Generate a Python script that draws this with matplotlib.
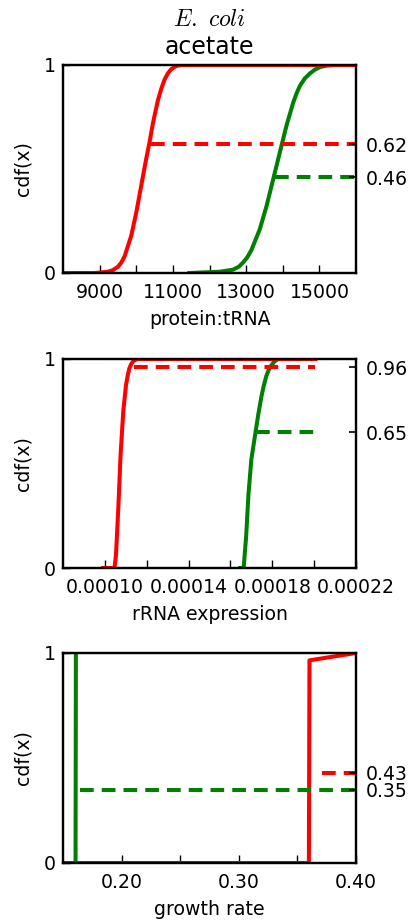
import matplotlib
matplotlib.use('Agg')
import matplotlib.pyplot as plt
from matplotlib.ticker import FixedLocator, FormatStrFormatter

plt.rcParams['mathtext.fontset'] = 'cm'
plt.rcParams['font.family'] = ['DejaVu Sans']

RED = '#ff0000'
GREEN = '#008000'

# protein:tRNA cumulative distributions
trna_red_x = [8000, 8864, 9227, 9364, 9500, 9591, 9682, 9864, 10000, 10136,
              10273, 10364, 10455, 10591, 10682, 10773, 10864, 10955, 11091,
              11227, 16000]
trna_red_cdf = [0, 0, 0.006, 0.014, 0.03, 0.05, 0.08, 0.18, 0.29, 0.42,
                0.55, 0.63, 0.72, 0.83, 0.885, 0.93, 0.96, 0.98, 0.995,
                1.0, 1.0]
trna_green_x = [11451, 12274, 12640, 12800, 12915, 13030, 13144, 13372, 13555,
                13738, 13921, 14104, 14287, 14380, 14470, 14600, 14745, 14880,
                15020, 15200, 15400, 16000]
trna_green_cdf = [0, 0.006, 0.016, 0.03, 0.05, 0.075, 0.11, 0.21, 0.32,
                  0.45, 0.58, 0.71, 0.82, 0.865, 0.90, 0.935, 0.96, 0.978,
                  0.99, 0.997, 1.0, 1.0]
trna_obs = {'red': (10390, 0.62), 'green': (13800, 0.46)}

# rRNA expression cumulative distributions
rrna_red_x = [0.0000992, 0.0001046, 0.0001053, 0.0001064, 0.0001075, 0.0001088,
              0.0001101, 0.0001109, 0.0001117, 0.0001126, 0.0001136, 0.0001148,
              0.0001160, 0.0002005]
rrna_red_cdf = [0, 0, 0.06, 0.28, 0.54, 0.75, 0.875, 0.92, 0.955, 0.976,
                0.99, 0.997, 1.0, 1.0]
rrna_green_x = [0.0001647, 0.0001663, 0.0001675, 0.0001686, 0.0001700,
                0.0001720, 0.0001734, 0.0001748, 0.0001760, 0.0001772,
                0.0001784, 0.0001796, 0.0001810, 0.0001827, 0.0002005]
rrna_green_cdf = [0, 0, 0.15, 0.35, 0.52, 0.65, 0.74, 0.82, 0.875, 0.92,
                  0.95, 0.97, 0.988, 1.0, 1.0]
rrna_obs = {'red': (0.0001140, 0.96), 'green': (0.0001724, 0.65)}

# growth rate cumulative distributions
growth_red_x = [0.15, 0.3598, 0.3603, 0.40]
growth_red_cdf = [0, 0, 0.965, 1.0]
growth_green_x = [0.1607, 0.1610]
growth_green_cdf = [0, 1.0]
growth_obs = {'red': (0.371, 0.43), 'green': (0.1646, 0.35)}

panels = [
    dict(xlabel='protein:tRNA', xlim=(8000, 16000),
         major=[9000, 11000, 13000, 15000], minor=[10000, 12000, 14000],
         fmt='%d', red=(trna_red_x, trna_red_cdf),
         green=(trna_green_x, trna_green_cdf), obs=trna_obs),
    dict(xlabel='rRNA expression', xlim=(0.00008, 0.00022),
         major=[0.00010, 0.00014, 0.00018, 0.00022],
         minor=[0.00012, 0.00016, 0.00020],
         fmt='%.5f', red=(rrna_red_x, rrna_red_cdf),
         green=(rrna_green_x, rrna_green_cdf), obs=rrna_obs),
    dict(xlabel='growth rate', xlim=(0.15, 0.40),
         major=[0.20, 0.30, 0.40], minor=[0.25, 0.35],
         fmt='%.2f', red=(growth_red_x, growth_red_cdf),
         green=(growth_green_x, growth_green_cdf), obs=growth_obs),
]

W, H = 411, 924
fig = plt.figure(figsize=(W / 100, H / 100), dpi=100)
boxes = [(65, 273), (359, 568), (653, 863)]
left, right = 63, 356

FS = 13.6
LW = 2.9
for (top, bottom), p in zip(boxes, panels):
    ax = fig.add_axes([left / W, (H - bottom) / H, (right - left) / W,
                       (bottom - top) / H])
    for name, color in (('green', GREEN), ('red', RED)):
        xs, cdf = p[name]
        ax.plot(xs, cdf, color=color, lw=LW, solid_joinstyle='round')
    # dashed lines run from the observed value to the end of the data
    x_end = max(max(p['red'][0]), max(p['green'][0]))
    ax2 = ax.twinx()
    rticks = []
    for name, color in (('green', GREEN), ('red', RED)):
        x0, v = p['obs'][name]
        ax.plot([x0, x_end], [v, v], color=color, lw=LW, ls='--',
                dashes=(3.4, 2.0))
        rticks.append(v)
    ax.set_xlim(*p['xlim'])
    ax.set_ylim(0, 1)
    ax.xaxis.set_major_locator(FixedLocator(p['major']))
    ax.xaxis.set_minor_locator(FixedLocator(p['minor']))
    ax.xaxis.set_major_formatter(FormatStrFormatter(p['fmt']))
    ax.set_yticks([0, 1])
    ax.set_yticklabels(['0', '1'])
    ax.tick_params(axis='x', which='both', direction='in', length=6, width=1,
                   top=False, labelsize=FS, pad=7)
    ax.tick_params(axis='y', direction='in', length=5, width=1, labelsize=FS,
                   pad=5, right=False)
    ax.set_xlabel(p['xlabel'], fontsize=FS, labelpad=6)
    ax.set_ylabel('cdf(x)', fontsize=FS, labelpad=8)

    ax2.set_ylim(0, 1)
    ax2.set_yticks(sorted(rticks))
    ax2.set_yticklabels(['%.2f' % v for v in sorted(rticks)])
    ax2.tick_params(axis='y', direction='in', length=5, width=1.2,
                    labelsize=FS, pad=7)
    for a in (ax, ax2):
        for s in a.spines.values():
            s.set_linewidth(1.6)

    if top == boxes[0][0]:
        ax.set_title('acetate', fontsize=17, pad=8)
        ax.text(0.5, 1.0 + 34 / (bottom - top), r'$E.\ coli$',
                transform=ax.transAxes, ha='center', va='bottom', fontsize=17)

fig.savefig('out.png', dpi=100)
